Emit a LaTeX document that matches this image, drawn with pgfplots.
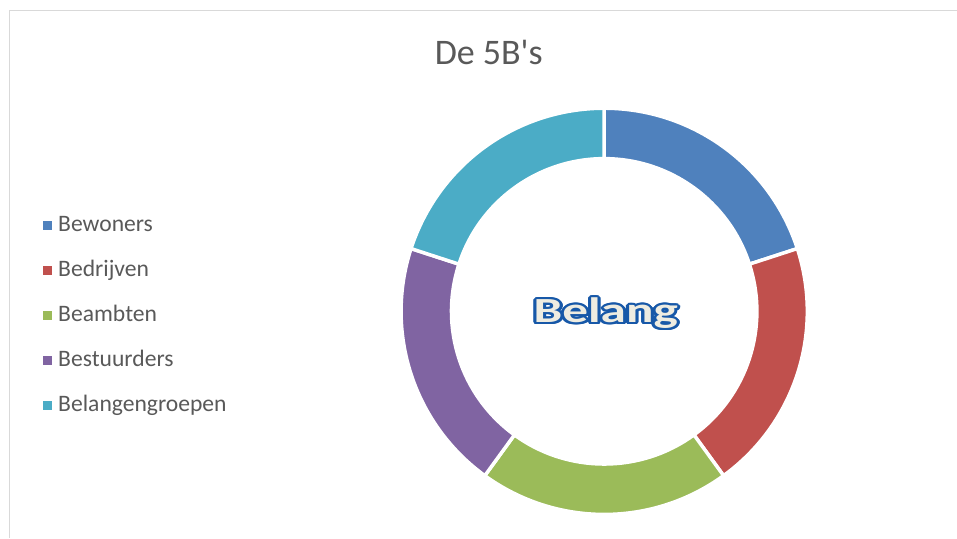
\documentclass[border=0pt]{standalone}
\usepackage{fontspec}
\setmainfont{Carlito}
\newfontfamily\titlefont{Carlito}[Ligatures=TeXOff]
\usepackage{pgfplots}
\usepackage{pgfplotstable}
\pgfplotsset{compat=1.18}
\usepackage[copies]{contour}
\definecolor{c1}{HTML}{4F81BD}
\definecolor{c2}{HTML}{C0504D}
\definecolor{c3}{HTML}{9BBB59}
\definecolor{c4}{HTML}{8064A2}
\definecolor{c5}{HTML}{4BACC6}
\definecolor{txt}{HTML}{595959}
\definecolor{frame}{HTML}{D9D9D9}
\definecolor{cream}{HTML}{EEECE1}
\definecolor{outl}{HTML}{1758A8}

\pgfplotstableread{
name value color
Bewoners 20 c1
Bedrijven 20 c2
Beambten 20 c3
Bestuurders 20 c4
Belangengroepen 20 c5
}\donut

\begin{document}
\begin{tikzpicture}
\begin{axis}[
  width=717.75pt, height=403.5pt, scale only axis,
  xmin=0, xmax=957, ymin=0, ymax=538,
  hide axis, clip=false,
  legend style={at={(axis cs:39,222)}, anchor=west, draw=none, fill=none,
    font=\fontsize{17.7}{20}\selectfont\color{txt},
    nodes={inner xsep=4.5pt, inner ysep=0pt, text height=12pt, text depth=4pt, anchor=west},
    /tikz/row sep=17.75pt},
  legend cell align=left,
  legend image code/.code={\fill[#1, draw=none] (0pt,-3.4pt) rectangle (6.75pt,3.4pt);},
]
% frame
\draw[frame, line width=0.75pt] (axis cs:10,0) -- (axis cs:10,527) -- (axis cs:957,527);
\path (axis cs:0,0) rectangle (axis cs:957,538);

\def\Ro{152.4pt}
\def\Ri{114.6pt}
\def\segtotal{0}
\pgfplotstablegetrowsof{\donut}
\pgfmathtruncatemacro\nrows{\pgfplotsretval-1}
\pgfplotsforeachungrouped \i in {0,...,\nrows}{%
  \pgfplotstablegetelem{\i}{value}\of\donut
  \pgfmathsetmacro\segtotal{\segtotal+\pgfplotsretval}%
}
\def\segcum{0}
\pgfplotsforeachungrouped \i in {0,...,\nrows}{%
  \pgfplotstablegetelem{\i}{value}\of\donut \let\segval\pgfplotsretval
  \pgfplotstablegetelem{\i}{color}\of\donut \let\segcol\pgfplotsretval
  \pgfplotstablegetelem{\i}{name}\of\donut \let\segname\pgfplotsretval
  \pgfmathsetmacro\aA{90-\segcum/\segtotal*360}%
  \pgfmathsetmacro\aB{90-(\segcum+\segval)/\segtotal*360}%
  \edef\temp{\noexpand\fill[\segcol, draw=white, line width=2.6pt]
    ([shift={(\aA:\Ro)}]axis cs:604.5,226.5) arc[start angle=\aA, end angle=\aB, radius=\Ro]
    -- ([shift={(\aB:\Ri)}]axis cs:604.5,226.5) arc[start angle=\aB, end angle=\aA, radius=\Ri] -- cycle;
    \noexpand\addlegendimage{fill=\segcol}
    \noexpand\addlegendentry{\segname}}%
  \temp
  \pgfmathsetmacro\segcum{\segcum+\segval}%
}

\node[anchor=base, text=txt, font=\titlefont\fontsize{27}{30}\selectfont, inner sep=0pt] at (axis cs:489,473) {De 5B's};

\contourlength{1.6pt}
\node[anchor=base, inner sep=0pt, xscale=1.45, font=\fontsize{26.5}{30}\selectfont\bfseries] at (axis cs:606,215) {\contour{outl}{\textcolor{cream}{Belang}}};
\end{axis}
\end{tikzpicture}
\end{document}
